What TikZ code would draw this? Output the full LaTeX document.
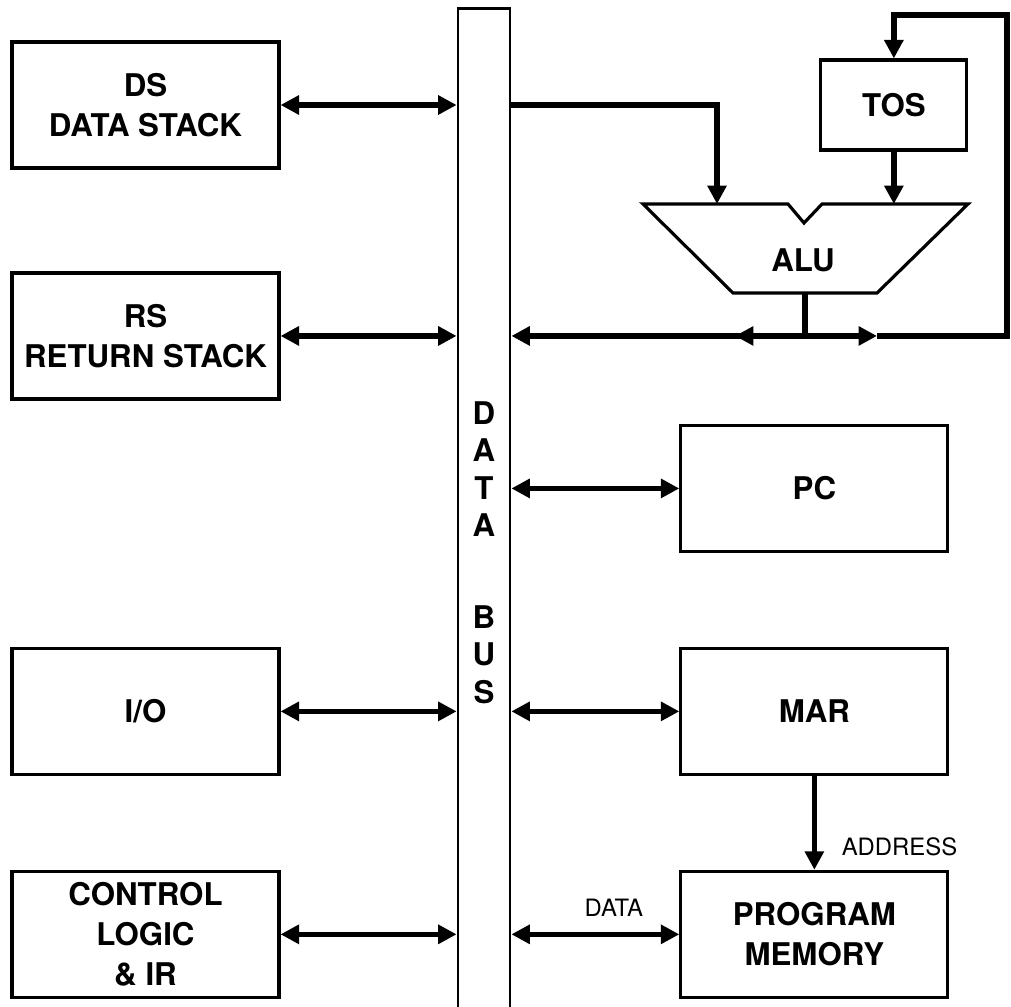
\documentclass[tikz,border=0pt]{standalone}
\usepackage{fontspec}
\setmainfont{TeX Gyre Heros}
\usetikzlibrary{arrows.meta,positioning}

\newcommand{\blockfont}{\bfseries\fontsize{17.8}{23}\selectfont}
\newcommand{\busfont}{\bfseries\fontsize{17.8}{21.4}\selectfont}
\newcommand{\tagfont}{\fontsize{13.6}{15}\selectfont}

\tikzstyle{block}=[rectangle,draw,line width=1.8pt,minimum width=5.34cm,minimum height=2.52cm,inner sep=0pt,align=center,font=\blockfont]
\tikzstyle{smallblock}=[block,minimum width=2.92cm,minimum height=1.8cm]
\tikzstyle{busbox}=[rectangle,draw,line width=1.6pt,minimum width=1.04cm,minimum height=20.08cm,inner sep=0pt]
\tikzstyle{wire}=[line width=3.2pt,>={Triangle[length=10.5pt,width=10.5pt]}]
\tikzstyle{tag}=[inner sep=0pt,font=\tagfont]

\begin{document}
\begin{tikzpicture}[x=0.02cm,y=-0.02cm]
        \useasboundingbox (0,0) rectangle (1011,1007);

        % left column
        \node[block] (ds) at (145.5,105)                        {DS\\DATA STACK};
        \node[block] (rs)   [below of=ds,  node distance=4.62cm] {RS\\RETURN STACK};
        \node[block] (io)   [below of=rs,  node distance=7.51cm] {I/O};
        \node[block] (ctrl) [below of=io,  node distance=4.46cm] {CONTROL\\LOGIC\\\& IR};

        % right column
        \node[block] (mar)  [right of=io,  node distance=13.38cm] {MAR};
        \node[block] (pc)   [above of=mar, node distance=4.46cm]  {PC};
        \node[block] (pm)   [below of=mar, node distance=4.46cm]  {PROGRAM\\MEMORY};
        \node[smallblock] (tos) [right of=ds, node distance=14.97cm] {TOS};

        % data bus
        \node[busbox] (bus) at (484,510) {};
        \node[font=\busfont,inner sep=0pt,align=center] (buslbl) at (484,552.5) {D\\A\\T\\A\\[1.07cm]B\\U\\S};

        % alu
        \draw[line width=1.8pt] (643,204) -- (788,204) -- (804,223) -- (822,204) -- (968,204)
          -- (877,293) -- (733,293) -- cycle;
        \node[font=\blockfont,inner sep=0pt] (alu) at (803,260) {ALU};
        \coordinate (alua) at (717,204);
        \coordinate (alub) at (tos.south |- alua);
        \coordinate (aluo) at (805,293);
        \coordinate (split) at (aluo |- rs);
        \coordinate (splitl) at ([xshift=-1.4cm]split);
        \coordinate (splitr) at ([xshift=1.44cm]split);
        \coordinate (loop) at (1007,15);

        \draw[wire,<->] (ds) -- (ds -| bus.west);
        \draw[wire,<->] (rs) -- (rs -| bus.west);
        \draw[wire,<->] (io) -- (io -| bus.west);
        \draw[wire,<->] (ctrl) -- (ctrl -| bus.west);

        \draw[wire,<->] (pc -| bus.east) -- (pc);
        \draw[wire,<->] (mar -| bus.east) -- (mar);
        \draw[wire,<->] (pm -| bus.east) -- node[tag,pos=0.61,above=8.8pt] (datalbl) {DATA} (pm);
        \draw[wire,->] (mar) -- node[tag,pos=0.755,right=14pt] (addrlbl) {ADDRESS} (pm);

        \draw[wire,->] (bus.east |- ds) -- (alua |- ds) -- (alua);
        \draw[wire,->] (tos) -- (alub);
        \draw[wire] (aluo) -- (split);
        \draw[wire,->] (split) -- (split -| bus.east);
        \draw[wire,->] (split) -- (splitl);
        \draw[wire,->] (split) -- (splitr);
        \draw[wire,->] (splitr) -- (split -| loop) -- (loop) -- (loop -| tos) -- (tos);
\end{tikzpicture}
\end{document}
